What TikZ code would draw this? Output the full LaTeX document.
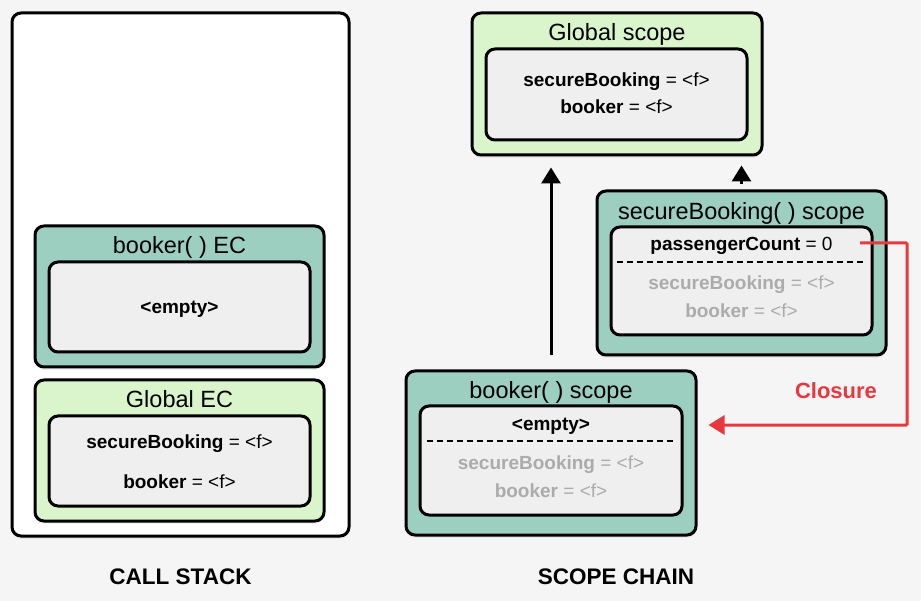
\documentclass[tikz,border=0pt]{standalone}
\usepackage{fontspec}
\setmainfont{Liberation Sans}
\usetikzlibrary{arrows.meta,calc,positioning,shadows}

\definecolor{fond}{HTML}{F5F5F5}
\definecolor{sarcelle}{HTML}{9DCFC1}
\definecolor{vertclair}{HTML}{DAF5CB}
\definecolor{interieur}{HTML}{EFEFEF}
\definecolor{grisclair}{HTML}{ABABAB}
\definecolor{rouge}{HTML}{E8383D}

\begin{document}
\begin{tikzpicture}[x=1pt,y=-1pt,
		cadre/.style={draw, line width=3pt, rounded corners=9pt, inner sep=0pt,
			drop shadow={opacity=0.10, shadow xshift=0pt, shadow yshift=-3pt}},
		pile/.style={cadre, fill=white, minimum width=337pt, minimum height=523pt},
		ctxvert/.style={cadre, fill=vertclair, minimum width=289pt},
		ctxbleu/.style={cadre, fill=sarcelle, minimum width=289pt},
		dedans/.style={draw, line width=3pt, rounded corners=9pt, inner sep=0pt,
			fill=interieur, minimum width=261pt},
		titre/.style={font=\fontsize{23.5}{27}\selectfont, text height=1.5ex, text depth=.25ex, inner sep=0pt, yshift=-4pt},
		ligne/.style={font=\fontsize{19}{22}\selectfont, text height=1.5ex, text depth=.25ex, inner sep=0pt, yshift=-3.5pt},
		grise/.style={ligne, text=grisclair},
		legende/.style={font=\fontsize{22.5}{26}\selectfont\bfseries, inner sep=0pt},
		fleche/.style={line width=3pt, -{Triangle[length=16pt, width=19pt]}},
		pointille/.style={line width=1.6pt, dash pattern=on 6pt off 4pt},
		]
	
	% Le fond
	\useasboundingbox[fill=fond] (0,0) rectangle (921,601);
	
	% La pile d'appels
	\node[pile] (stack) at (180.5,274.5) {};
	\node[ctxbleu, minimum height=141pt] (bookerec) at (179.5,296.5) {};
	\node[dedans, minimum height=90pt] (bookerecin) at (179.5,307) {};
	\node[titre] (tbookerec) at (179.5,246) {booker( ) EC};
	\node[ligne] (vide1) at (bookerecin) {\textbf{<empty>}};
	
	\node[ctxvert, minimum height=141pt] (globalec) at (179.5,450.5) {};
	\node[dedans, minimum height=90pt] (globalecin) at (179.5,461) {};
	\node[titre] (tglobalec) at (179.5,400) {Global EC};
	\node[ligne] (sb1) at (179.5,442) {\textbf{secureBooking} = <f>};
	\node[ligne] (bk1) at (179.5,482) {\textbf{booker} = <f>};
	
	\node[legende] (callstack) at (180.5,577) {CALL STACK};
	
	% La chaine des portees
	\node[ctxvert, minimum width=290pt, minimum height=142pt] (globalsc) at (617,84) {};
	\node[dedans, minimum height=91pt] (globalscin) at (616.5,94.5) {};
	\node[titre] (tglobalsc) at (617,33) {Global scope};
	\node[ligne] (sb2) at (616.5,80) {\textbf{secureBooking} = <f>};
	\node[ligne] (bk2) at (616.5,107) {\textbf{booker} = <f>};
	
	\node[ctxbleu, minimum height=164pt] (securesc) at (741.5,273) {};
	\node[dedans, minimum height=108pt] (securescin) at (741.5,281) {};
	\node[titre] (tsecuresc) at (741.5,212) {secureBooking( ) scope};
	\node[ligne] (pc) at (741.5,244) {\textbf{passengerCount} = 0};
	\draw[pointille] (617,262) -- (866,262);
	\node[grise] (sb3) at (741.5,283) {\textbf{secureBooking} = <f>};
	\node[grise] (bk3) at (741.5,311) {\textbf{booker} = <f>};
	
	\node[ctxbleu, minimum width=290pt, minimum height=164pt] (bookersc) at (551,453) {};
	\node[dedans, minimum width=262pt, minimum height=109pt] (bookerscin) at (551,460.5) {};
	\node[titre] (tbookersc) at (551,391) {booker( ) scope};
	\node[ligne] (vide2) at (551,424) {\textbf{<empty>}};
	\draw[pointille] (427,441) -- (676,441);
	\node[grise] (sb4) at (551,463) {\textbf{secureBooking} = <f>};
	\node[grise] (bk4) at (551,491) {\textbf{booker} = <f>};
	
	\node[legende] (scopechain) at (616,577) {SCOPE CHAIN};
	
	% Les fleches
	\draw[fleche, shorten <=14pt, shorten >=11pt] (bookersc.north) -- (bookersc.north |- globalsc.south);
	\draw[fleche, shorten <=5pt, shorten >=9pt] (securesc.north) -- (securesc.north |- globalsc.south);
	
	% La fermeture
	\coordinate (cdep) at (860,243);
	\coordinate (coin) at (907,243);
	\coordinate (cfin) at (907,425);
	\draw[fleche, rouge, rounded corners=1pt, shorten >=11pt] (cdep) -- (coin) -- (cfin) -- (bookersc.east |- cfin);
	\node[legende, text=rouge, font=\fontsize{22}{26}\selectfont\bfseries] (closure) at (836,391) {Closure};
\end{tikzpicture}
\end{document}
